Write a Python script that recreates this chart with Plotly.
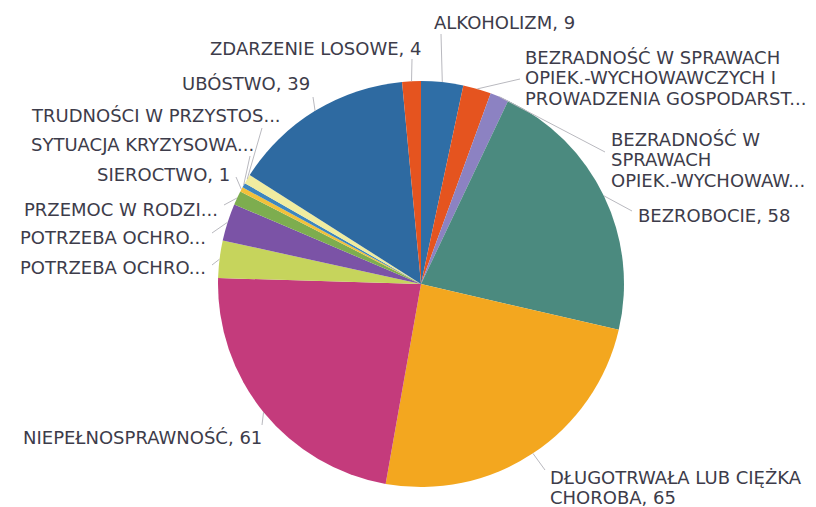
import math
import plotly.graph_objects as go

W, H = 816, 507

# Reasons for granting social assistance (number of families)
categories = [
    "ALKOHOLIZM",
    "BEZRADNOŚĆ W SPRAWACH OPIEK.-WYCHOWAWCZYCH I PROWADZENIA GOSPODARSTWA DOMOWEGO",
    "BEZRADNOŚĆ W SPRAWACH OPIEK.-WYCHOWAWCZYCH",
    "BEZROBOCIE",
    "DŁUGOTRWAŁA LUB CIĘŻKA CHOROBA",
    "NIEPEŁNOSPRAWNOŚĆ",
    "POTRZEBA OCHRONY MACIERZYŃSTWA",
    "POTRZEBA OCHRONY MACIERZYŃSTWA - WIELODZIETNOŚĆ",
    "PRZEMOC W RODZINIE",
    "SIEROCTWO",
    "SYTUACJA KRYZYSOWA",
    "TRUDNOŚCI W PRZYSTOSOWANIU DO ŻYCIA PO ZWOLNIENIU Z ZAKŁADU KARNEGO",
    "UBÓSTWO",
    "ZDARZENIE LOSOWE",
]
values = [9, 6, 4, 58, 65, 61, 8, 8, 3, 1, 1, 2, 39, 4]

# Data labels as displayed (one entry per line)
display_labels = [
    ["ALKOHOLIZM, 9"],
    ["BEZRADNOŚĆ W SPRAWACH", "OPIEK.-WYCHOWAWCZYCH I", "PROWADZENIA GOSPODARST..."],
    ["BEZRADNOŚĆ W", "SPRAWACH", "OPIEK.-WYCHOWAW..."],
    ["BEZROBOCIE, 58"],
    ["DŁUGOTRWAŁA LUB CIĘŻKA", "CHOROBA, 65"],
    ["NIEPEŁNOSPRAWNOŚĆ, 61"],
    ["POTRZEBA OCHRO..."],
    ["POTRZEBA OCHRO..."],
    ["PRZEMOC W RODZI..."],
    ["SIEROCTWO, 1"],
    ["SYTUACJA KRYZYSOWA..."],
    ["TRUDNOŚCI W PRZYSTOS..."],
    ["UBÓSTWO, 39"],
    ["ZDARZENIE LOSOWE, 4"],
]

colors = [
    "#2f6ea6", "#e5541f", "#8c82c2", "#4b8a7f", "#f3a71f", "#c43b7c", "#c6d45c",
    "#7b53a6", "#7dad4f", "#f2c13a", "#3d86bf", "#f0eca0", "#2e6aa1", "#e5541f",
]

# Layout of the label block: text anchor (px), alignment, leader-line end (px)
label_pos = [
    (432, 22, "left", (441, 34)),
    (523, 57, "left", (520, 79)),
    (609, 139, "left", (605, 152)),
    (636, 216, "left", (632, 211)),
    (548, 477, "left", (545, 470)),
    (264, 437, "right", (262, 425)),
    (208, 267, "right", (212, 265)),
    (208, 238, "right", (212, 233)),
    (220, 209, "right", (224, 205)),
    (232, 174, "right", (236, 177)),
    (256, 144, "right", (250, 156)),
    (283, 115, "right", (262, 128)),
    (312, 84, "right", (313, 97)),
    (423, 48, "right", (412, 59)),
]
LINE_STEP = 20.7

# Pie geometry in pixels
CX, CY, R = 421, 284, 203

fig = go.Figure(
    go.Pie(
        labels=categories,
        values=values,
        sort=False,
        direction="clockwise",
        rotation=0,
        marker=dict(colors=colors, line=dict(width=0)),
        textinfo="none",
        hoverinfo="label+value",
        showlegend=False,
        domain=dict(
            x=[(CX - R) / W, (CX + R) / W],
            y=[1 - (CY + R) / H, 1 - (CY - R) / H],
        ),
    )
)

font = dict(family="DejaVu Sans", size=18, color="#3d3c4a")
annotations = []
shapes = []
total = sum(values)
cum = 0
for v, lines, (lx, ly, anchor, (ex, ey)) in zip(values, display_labels, label_pos):
    mid = (cum + v / 2) / total * 2 * math.pi
    cum += v
    px = CX + R * math.sin(mid)
    py = CY - R * math.cos(mid)
    shapes.append(dict(
        type="line", xref="paper", yref="paper",
        x0=px / W, y0=1 - py / H, x1=ex / W, y1=1 - ey / H,
        line=dict(color="#b9b9bf", width=1),
    ))
    for i, t in enumerate(lines):
        annotations.append(dict(
            x=lx / W, y=1 - (ly + i * LINE_STEP) / H,
            xref="paper", yref="paper", text=t, showarrow=False,
            xanchor=anchor, yanchor="middle", font=font,
        ))

fig.update_layout(
    width=W, height=H,
    margin=dict(l=0, r=0, t=0, b=0),
    paper_bgcolor="white", plot_bgcolor="white",
    annotations=annotations, shapes=shapes,
)

fig.write_html("out.html")
